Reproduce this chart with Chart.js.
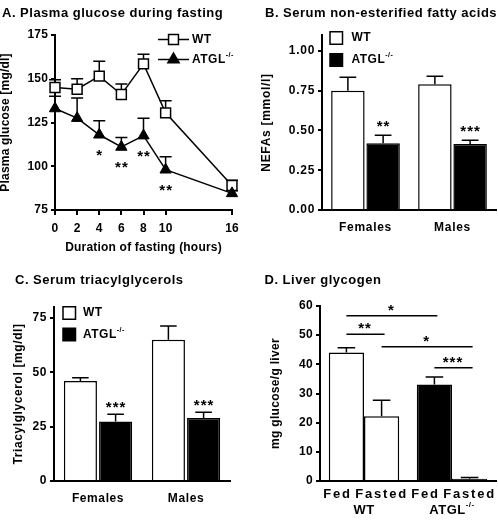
<!DOCTYPE html>
<html>
<head>
<meta charset="utf-8">
<script src="https://cdn.jsdelivr.net/npm/chart.js@4"></script>
<style>
  body { margin: 0; background: #fff; }
  .panel { position: absolute; width: 249px; height: 260px; }
</style>
</head>
<body>
<div class="panel" style="left:0;top:0"><canvas id="chartA"></canvas></div>
<div class="panel" style="left:249px;top:0"><canvas id="chartB"></canvas></div>
<div class="panel" style="left:0;top:260px"><canvas id="chartC"></canvas></div>
<div class="panel" style="left:249px;top:260px"><canvas id="chartD"></canvas></div>
<script>
// A. plasma glucose
var fastingHours = [0, 2, 4, 6, 8, 10, 16];
var wtGlucose = [145, 144, 151.5, 141, 158.5, 130.5, 89];
var wtGlucoseSem = [4.5, 6, 8.5, 6, 5.5, 7, 3];
var atglGlucose = [133, 127.5, 118, 111, 117.5, 98, 84.5];
var atglGlucoseSem = [7, 11.5, 8, 5.5, 10, 7.5, 1.5];
var glucoseStars = ['', '', '*', '**', '**', '**', ''];

// B. NEFA
var sexLabels = ['Females', 'Males'];
var wtNefa = [0.75, 0.79];
var wtNefaSem = [0.085, 0.05];
var atglNefa = [0.42, 0.415];
var atglNefaSem = [0.05, 0.023];
var nefaStars = ['**', '***'];

// C. triacylglycerol
var wtTag = [46, 65];
var wtTagSem = [1.5, 6.3];
var atglTag = [27.3, 29];
var atglTagSem = [3.4, 2.6];
var tagStars = ['***', '***'];

// D. liver glycogen
var genotypeLabels = ['WT', 'ATGL-/-'];
var fedGlycogen = [44.1, 33.1];
var fedGlycogenSem = [1.6, 2.6];
var fastedGlycogen = [22.2, 0.8];
var fastedGlycogenSem = [5.5, 0.4];
// [dataset, index] pairs, level in mg/g
var glycogenBrackets = [
  { from: [0, 0], to: [0, 1], level: 56.7, text: '*' },
  { from: [0, 0], to: [1, 0], level: 50.3, text: '**' },
  { from: [1, 0], to: [1, 1], level: 46, text: '*' },
  { from: [0, 1], to: [1, 1], level: 38.8, text: '***' }
];

var FONT = '"Liberation Sans", Arial, Helvetica, sans-serif';

function font(size) {
  return { family: FONT, size: size, weight: 'bold', lineHeight: 1 };
}

function setSpacing(ctx, px) {
  if ('letterSpacing' in ctx) ctx.letterSpacing = (px || 0) + 'px';
}

function drawText(ctx, text, x, y, size, align, spacing, baseline) {
  ctx.save();
  ctx.fillStyle = '#000';
  ctx.font = 'bold ' + size + 'px ' + FONT;
  ctx.textAlign = align || 'left';
  ctx.textBaseline = baseline || 'middle';
  setSpacing(ctx, spacing);
  ctx.fillText(text, x, y);
  ctx.restore();
}

// text with a "-/-" superscript
function drawLabel(ctx, text, x, y, size, align, spacing) {
  var sup = '';
  if (text.slice(-3) === '-/-') { sup = '-/-'; text = text.slice(0, -3); }
  var supSize = Math.round(size * 0.62);
  ctx.save();
  ctx.fillStyle = '#000';
  ctx.textAlign = 'left';
  ctx.textBaseline = 'middle';
  setSpacing(ctx, spacing);
  ctx.font = 'bold ' + size + 'px ' + FONT;
  var w = ctx.measureText(text).width;
  ctx.font = 'bold ' + supSize + 'px ' + FONT;
  var sw = sup ? ctx.measureText(sup).width : 0;
  var x0 = x;
  if (align === 'center') x0 = x - (w + sw) / 2;
  ctx.font = 'bold ' + size + 'px ' + FONT;
  ctx.fillText(text, x0, y);
  if (sup) {
    ctx.font = 'bold ' + supSize + 'px ' + FONT;
    ctx.fillText(sup, x0 + w, y - size * 0.4);
  }
  ctx.restore();
}

function valueOf(v) { return typeof v === 'object' ? v.y : v; }

function drawErrorBars(chart) {
  var ctx = chart.ctx;
  ctx.save();
  ctx.strokeStyle = '#000';
  ctx.lineWidth = 1.5;
  chart.data.datasets.forEach(function (ds, di) {
    if (!ds.errors) return;
    var meta = chart.getDatasetMeta(di);
    var ys = chart.scales[meta.yAxisID];
    meta.data.forEach(function (el, i) {
      var top = ys.getPixelForValue(valueOf(ds.data[i]) + ds.errors[i]);
      var cap = el.width ? el.width / 2 : 12;
      ctx.beginPath();
      ctx.moveTo(el.x, el.y);
      ctx.lineTo(el.x, top);
      ctx.moveTo(el.x - cap / 2, top);
      ctx.lineTo(el.x + cap / 2, top);
      ctx.stroke();
    });
  });
  ctx.restore();
}

function drawStars(chart, cfg) {
  var ctx = chart.ctx;
  chart.data.datasets.forEach(function (ds, di) {
    if (!ds.stars) return;
    var meta = chart.getDatasetMeta(di);
    var ys = chart.scales[meta.yAxisID];
    meta.data.forEach(function (el, i) {
      if (!ds.stars[i]) return;
      var y;
      if (cfg.starsBelow) y = el.y + cfg.starOffset;
      else y = ys.getPixelForValue(valueOf(ds.data[i]) + ds.errors[i]) - cfg.starOffset;
      drawText(ctx, ds.stars[i], el.x + 0.5, y, 15, 'center', 1, 'alphabetic');
    });
  });
}

function drawLegend(chart, cfg) {
  if (!cfg.legend) return;
  var ctx = chart.ctx, L = cfg.legend;
  chart.data.datasets.forEach(function (ds, di) {
    var y = L.y[di];
    ctx.save();
    ctx.strokeStyle = '#000';
    ctx.lineWidth = 1.5;
    if (L.type === 'line') {
      ctx.beginPath();
      ctx.moveTo(L.x0, y);
      ctx.lineTo(L.x1, y);
      ctx.stroke();
      ctx.fillStyle = ds.pointBackgroundColor;
      Chart.helpers.drawPoint(ctx, {
        pointStyle: ds.pointStyle, radius: ds.pointRadius, borderWidth: 1.5, rotation: 0
      }, (L.x0 + L.x1) / 2, y);
    } else {
      ctx.fillStyle = ds.backgroundColor;
      ctx.fillRect(L.x0, y - L.size / 2, L.size, L.size);
      ctx.strokeRect(L.x0, y - L.size / 2, L.size, L.size);
    }
    ctx.restore();
    drawLabel(ctx, ds.label, L.textX, y, 12, 'left', 0.5);
  });
}

function panelPlugin(cfg) {
  return {
    id: 'panel',
    beforeDraw: function (chart) {
      setSpacing(chart.ctx, cfg.tickSpacing);
    },
    beforeDatasetsDraw: function (chart) {
      setSpacing(chart.ctx, 0);
      drawErrorBars(chart);
    },
    afterDatasetsDraw: function (chart) {
      drawText(chart.ctx, cfg.title, cfg.titleX, cfg.titleY, 13, 'left', 0.5);
      drawStars(chart, cfg);
      drawLegend(chart, cfg);
      if (cfg.extra) cfg.extra(chart);
    }
  };
}

function yAxis(min, max, step, width, titleText, titlePad, fmt) {
  return {
    min: min, max: max,
    afterFit: function (s) { s.width = width; },
    border: { color: '#000', width: 2 },
    grid: { drawOnChartArea: false, color: '#000', lineWidth: 2, tickLength: 4 },
    ticks: { stepSize: step, includeBounds: false, color: '#000', font: font(12), padding: 3,
      callback: fmt || function (v) { return v; } },
    title: { display: true, text: titleText, color: '#000', font: font(12),
      padding: { top: titlePad, bottom: 0 } }
  };
}

function xCategory(height, pad, show) {
  return {
    afterFit: function (s) { s.height = height; },
    border: { color: '#000', width: 2 },
    grid: { display: false, drawTicks: false, tickLength: 0 },
    ticks: { display: show, color: '#000', font: font(12), padding: pad, maxRotation: 0 }
  };
}

function baseOptions(padTop, padRight) {
  return {
    animation: false,
    responsive: true,
    maintainAspectRatio: false,
    layout: { padding: { top: padTop, right: padRight, bottom: 0, left: 0 } },
    plugins: { legend: { display: false }, tooltip: { enabled: false } }
  };
}

// ---------- A ----------
var optsA = baseOptions(35, 17);
optsA.scales = {
  x: {
    type: 'linear', min: 0, max: 16,
    afterBuildTicks: function (s) { s.ticks = fastingHours.map(function (h) { return { value: h }; }); },
    afterFit: function (s) { s.height = 50; },
    border: { color: '#000', width: 2 },
    grid: { drawOnChartArea: false, color: '#000', lineWidth: 2, tickLength: 5 },
    ticks: { color: '#000', font: font(12), padding: 8, maxRotation: 0, autoSkip: false },
    title: { display: true, text: 'Duration of fasting (hours)', color: '#000', font: font(12),
      padding: { top: 0, bottom: 6 } }
  },
  y: yAxis(75, 175, 25, 55, 'Plasma glucose [mg/dl]', 0)
};
new Chart(document.getElementById('chartA'), {
  type: 'line',
  data: {
    datasets: [{
      label: 'WT',
      data: fastingHours.map(function (h, i) { return { x: h, y: wtGlucose[i] }; }),
      errors: wtGlucoseSem,
      borderColor: '#000', borderWidth: 1.5, tension: 0, clip: false, order: 1,
      pointStyle: 'rect', pointRadius: 7, pointBorderWidth: 1.5,
      pointBackgroundColor: '#fff', pointBorderColor: '#000'
    }, {
      label: 'ATGL-/-',
      data: fastingHours.map(function (h, i) { return { x: h, y: atglGlucose[i] }; }),
      errors: atglGlucoseSem,
      stars: glucoseStars,
      borderColor: '#000', borderWidth: 1.5, tension: 0, clip: false, order: 0,
      pointStyle: 'triangle', pointRadius: 6.5, pointBorderWidth: 1,
      pointBackgroundColor: '#000', pointBorderColor: '#000'
    }]
  },
  options: optsA,
  plugins: [panelPlugin({
    title: 'A. Plasma glucose during fasting', titleX: 2, titleY: 13, tickSpacing: 0.2,
    starsBelow: true, starOffset: 25,
    legend: { type: 'line', x0: 158, x1: 189, y: [39.5, 59.5], textX: 192 }
  })]
});

// ---------- B ----------
var optsB = baseOptions(35, 2);
optsB.scales = {
  x: xCategory(50, 12, true),
  y: yAxis(0, 1.1, 0.25, 73, 'NEFAs [mmol/l]', 11.5, function (v) { return v.toFixed(2); })
};
new Chart(document.getElementById('chartB'), {
  type: 'bar',
  data: {
    labels: sexLabels,
    datasets: [{
      label: 'WT', data: wtNefa, errors: wtNefaSem,
      backgroundColor: '#fff', borderColor: '#000', borderWidth: 1.5,
      categoryPercentage: 0.81, barPercentage: 0.95
    }, {
      label: 'ATGL-/-', data: atglNefa, errors: atglNefaSem, stars: nefaStars,
      backgroundColor: '#000', borderColor: '#000', borderWidth: 1.5,
      categoryPercentage: 0.81, barPercentage: 0.95
    }]
  },
  options: optsB,
  plugins: [panelPlugin({
    title: 'B. Serum non-esterified fatty acids', titleX: 16, titleY: 13, tickSpacing: 0.7,
    starOffset: 4.5,
    legend: { type: 'box', x0: 81, size: 12.5, y: [38, 60], textX: 102.5 }
  })]
});

// ---------- C ----------
var optsC = baseOptions(47, 19);
optsC.scales = {
  x: xCategory(39, 12, true),
  y: yAxis(0, 80, 25, 54, 'Triacylglycerol [mg/dl]', 12.5)
};
new Chart(document.getElementById('chartC'), {
  type: 'bar',
  data: {
    labels: sexLabels,
    datasets: [{
      label: 'WT', data: wtTag, errors: wtTagSem,
      backgroundColor: '#fff', borderColor: '#000', borderWidth: 1.5,
      categoryPercentage: 0.8, barPercentage: 0.94
    }, {
      label: 'ATGL-/-', data: atglTag, errors: atglTagSem, stars: tagStars,
      backgroundColor: '#000', borderColor: '#000', borderWidth: 1.5,
      categoryPercentage: 0.8, barPercentage: 0.94
    }]
  },
  options: optsC,
  plugins: [panelPlugin({
    title: 'C. Serum triacylglycerols', titleX: 15, titleY: 20, tickSpacing: 0.6,
    starOffset: 2.5,
    legend: { type: 'box', x0: 63, size: 12.5, y: [53, 74.5], textX: 83 }
  })]
});

// ---------- D ----------
var optsD = baseOptions(46, 2);
optsD.scales = {
  x: xCategory(39, 0, false),
  y: yAxis(0, 60, 10, 71, 'mg glucose/g liver', 20.5)
};
new Chart(document.getElementById('chartD'), {
  type: 'bar',
  data: {
    labels: genotypeLabels,
    datasets: [{
      label: 'Fed', data: fedGlycogen, errors: fedGlycogenSem,
      backgroundColor: ['#fff', '#000'], borderColor: '#000', borderWidth: 1.5,
      categoryPercentage: 0.8, barPercentage: 1
    }, {
      label: 'Fasted', data: fastedGlycogen, errors: fastedGlycogenSem,
      backgroundColor: ['#fff', '#000'], borderColor: '#000', borderWidth: 1.5,
      categoryPercentage: 0.8, barPercentage: 1
    }]
  },
  options: optsD,
  plugins: [panelPlugin({
    title: 'D. Liver glycogen', titleX: 15.5, titleY: 20, tickSpacing: 0.3,
    subLabelShift: [-9, 0],
    extra: function (chart) {
      var ctx = chart.ctx, xs = chart.scales.x, ys = chart.scales.y;
      var bottom = chart.chartArea.bottom;
      var shift = this.subLabelShift;
      chart.data.datasets.forEach(function (ds, di) {
        chart.getDatasetMeta(di).data.forEach(function (el) {
          drawText(ctx, ds.label, el.x + shift[di], bottom + 13, 13, 'center', 1.8);
        });
      });
      genotypeLabels.forEach(function (g, i) {
        drawLabel(ctx, g, xs.getPixelForValue(i), bottom + 29, 13, 'center', 0.5);
      });
      ctx.save();
      ctx.strokeStyle = '#000';
      ctx.lineWidth = 1.5;
      glycogenBrackets.forEach(function (b) {
        var a = chart.getDatasetMeta(b.from[0]).data[b.from[1]];
        var c = chart.getDatasetMeta(b.to[0]).data[b.to[1]];
        var y = ys.getPixelForValue(b.level);
        ctx.beginPath();
        ctx.moveTo(a.x, y);
        ctx.lineTo(c.x + 3, y);
        ctx.stroke();
        drawText(ctx, b.text, (a.x + c.x) / 2 + 1, y - 1, 15, 'center', 1, 'alphabetic');
      });
      ctx.restore();
    }
  })]
});
</script>
</body>
</html>
